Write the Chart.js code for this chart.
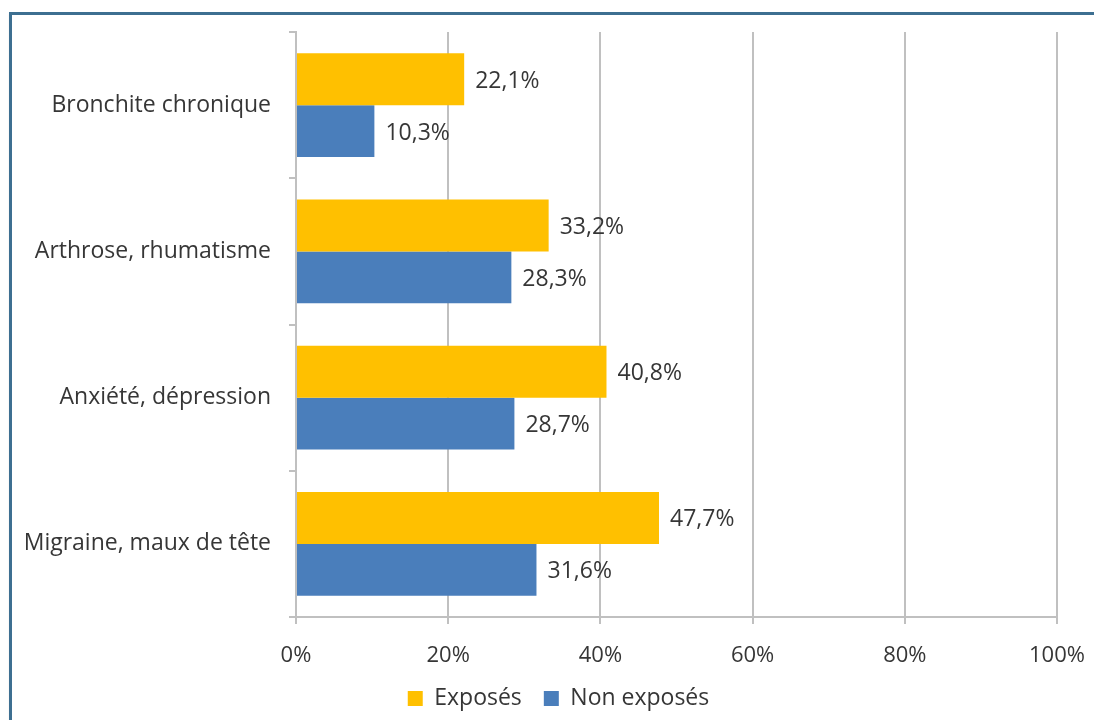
<!DOCTYPE html>
<html>
<head>
<meta charset="utf-8">
<script src="https://cdn.jsdelivr.net/npm/chart.js@4"></script>
<style>
  html, body { margin: 0; padding: 0; background: #fff; }
  .frame {
    position: absolute; left: 9px; top: 12px;
    width: 1200px; height: 800px;
    border-left: 3px solid #3d6f91; border-top: 3px solid #3d6f91;
    box-shadow: 0 2px 2px rgba(0,0,0,0.08);
  }
  .wrap { position: absolute; left: 0; top: 0; width: 1094px; height: 720px; }
</style>
</head>
<body>
<div class="frame"></div>
<div class="wrap"><canvas id="chart" width="1094" height="720"></canvas></div>
<script>
// Data
const categories = ['Bronchite chronique', 'Arthrose, rhumatisme', 'Anxiété, dépression', 'Migraine, maux de tête'];
const exposes = [22.1, 33.2, 40.8, 47.7];
const nonExposes = [10.3, 28.3, 28.7, 31.6];
const xTicks = [0, 20, 40, 60, 80, 100];

const textColor = '#363636';
const fontFamily = '"Open Sans", Lato, sans-serif';

// Draw value labels right of each bar
const valueLabels = {
  id: 'valueLabels',
  afterDatasetsDraw(chart) {
    const ctx = chart.ctx;
    ctx.save();
    ctx.font = '23px ' + fontFamily;
    ctx.fillStyle = textColor;
    ctx.textAlign = 'left';
    ctx.textBaseline = 'middle';
    chart.data.datasets.forEach((ds, i) => {
      chart.getDatasetMeta(i).data.forEach((bar, j) => {
        const txt = ds.data[j].toFixed(1).replace('.', ',') + '%';
        ctx.fillText(txt, bar.x + 11, bar.y + 2);
      });
    });
    ctx.restore();
  }
};

// Nudge the legend a bit to the right, like the original
const legendShift = {
  id: 'legendShift',
  afterLayout(chart) {
    if (chart.legend) {
      chart.legend.left += 30;
      chart.legend.right += 30;
    }
  }
};

new Chart(document.getElementById('chart'), {
  type: 'bar',
  data: {
    labels: categories,
    datasets: [
      {
        label: 'Exposés',
        data: exposes,
        backgroundColor: '#ffc000',
        barPercentage: 1.0,
        categoryPercentage: 0.71
      },
      {
        label: 'Non exposés',
        data: nonExposes,
        backgroundColor: '#4a7ebb',
        barPercentage: 1.0,
        categoryPercentage: 0.71
      }
    ]
  },
  options: {
    indexAxis: 'y',
    responsive: false,
    animation: false,
    layout: { padding: { top: 32, right: 37, left: 0, bottom: 0 } },
    scales: {
      x: {
        min: 0,
        max: 100,
        afterBuildTicks(scale) {
          scale.ticks = xTicks.map(v => ({ value: v }));
        },
        afterFit(scale) {
          scale.height = 48;
          // labels may hang over the edges, as in the original
          scale.paddingLeft = 0;
          scale.paddingRight = 0;
        },
        grid: {
          color: '#c0c0c0',
          lineWidth: 2,
          tickLength: 7
        },
        border: { color: '#c0c0c0', width: 2 },
        ticks: {
          color: textColor,
          font: { family: fontFamily, size: 22 },
          padding: 19,
          callback: v => v + '%'
        }
      },
      y: {
        afterFit(scale) { scale.width = 296; },
        grid: {
          drawOnChartArea: false,
          color: '#c0c0c0',
          lineWidth: 2,
          tickLength: 7
        },
        border: { color: '#c0c0c0', width: 2 },
        ticks: {
          color: textColor,
          font: { family: fontFamily, size: 23 },
          padding: 18
        }
      }
    },
    plugins: {
      legend: {
        position: 'bottom',
        labels: {
          color: textColor,
          font: { family: fontFamily, size: 23 },
          boxWidth: 15,
          boxHeight: 15,
          padding: 22
        }
      },
      tooltip: { enabled: false }
    }
  },
  plugins: [valueLabels, legendShift]
});
</script>
</body>
</html>
